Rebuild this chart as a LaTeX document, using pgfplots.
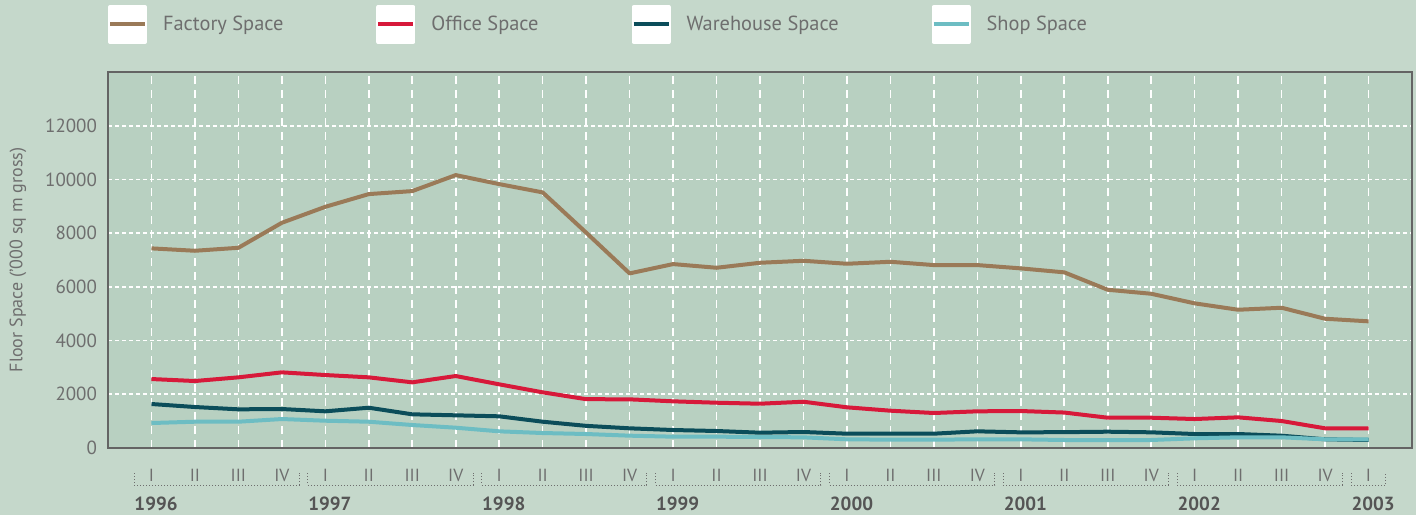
\documentclass[border=0pt]{standalone}
\usepackage{fontspec}
\setmainfont{PT Sans}
\usepackage{pgfplots}
\pgfplotsset{compat=1.18}
\definecolor{outerbg}{RGB}{197,216,203}
\definecolor{plotbg}{RGB}{184,208,193}
\definecolor{txtgrey}{RGB}{110,110,110}
\definecolor{yeargrey}{RGB}{85,85,85}
\definecolor{axisgrey}{RGB}{100,100,100}
\definecolor{cfactory}{RGB}{154,122,88}
\definecolor{coffice}{RGB}{215,25,58}
\definecolor{cwarehouse}{RGB}{11,77,90}
\definecolor{cshop}{RGB}{109,189,195}
\begin{document}
\begin{tikzpicture}
\fill[outerbg] (0,0) rectangle (708pt,257.5pt);
\begin{axis}[
  at={(54pt,33.5pt)}, anchor=south west,
  width=652pt, height=188pt, scale only axis,
  xmin=-1, xmax=29, ymin=0, ymax=14000,
  axis background/.style={fill=plotbg},
  axis line style={draw=axisgrey, line width=0.8pt},
  xtick={0,...,28},
  xticklabels={I,II,III,IV,I,II,III,IV,I,II,III,IV,I,II,III,IV,I,II,III,IV,I,II,III,IV,I,II,III,IV,I},
  ytick={0,2000,...,12000},
  scaled y ticks=false,
  major tick length=0pt,
  grid=major,
  x grid style={white, line width=0.8pt, dash pattern=on 4pt off 3pt},
  y grid style={white, line width=0.8pt, dash pattern=on 2pt off 1.5pt},
  /pgf/number format/assume math mode=true,
  /pgf/number format/1000 sep={},
  yticklabel style={font=\fontsize{9.5}{11}\selectfont, text=txtgrey, xshift=-2pt},
  xticklabel style={font=\fontsize{8.8}{10}\selectfont, text=txtgrey, yshift=-7pt},
  ylabel={Floor Space ('000 sq m gross)},
  ylabel style={at={([xshift=-45pt]axis description cs:0,0.5)}, anchor=center, font=\fontsize{9}{11}\selectfont, text=txtgrey},
  clip=false,
  legend columns=4,
  legend cell align=left,
  legend style={at={(0,1)}, anchor=south west, yshift=14pt, draw=none, fill=none,
    inner sep=0pt, outer sep=0pt, font=\fontsize{10.2}{12}\selectfont, text=txtgrey,
    /tikz/every odd column/.append style={column sep=6pt},
    /tikz/every even column/.append style={column sep=44.5pt}},
  legend image code/.code={\fill[white] (0pt,-8.75pt) rectangle (17.5pt,8.75pt);
    \draw[#1, line width=2pt] (0pt,0pt) -- (17.5pt,0pt);},
  every axis plot/.append style={line width=2pt, line join=round},
]
\addplot[cfactory] table {
0 7433
1 7344
2 7455
3 8386
4 8981
5 9454
6 9566
7 10161
8 9826
9 9517
10 8020
11 6502
12 6848
13 6711
14 6897
15 6971
16 6860
17 6934
18 6811
19 6811
20 6688
21 6540
22 5892
23 5743
24 5386
25 5148
26 5222
27 4813
28 4716
};
\addlegendentry{Factory Space}
\addplot[coffice] table {
0 2568
1 2494
2 2631
3 2817
4 2717
5 2631
6 2445
7 2680
8 2371
9 2073
10 1818
11 1812
12 1738
13 1686
14 1649
15 1723
16 1515
17 1389
18 1303
19 1366
20 1377
21 1320
22 1128
23 1128
24 1079
25 1142
26 1005
27 733
28 733
};
\addlegendentry{Office Space}
\addplot[cwarehouse] table {
0 1638
1 1526
2 1440
3 1452
4 1366
5 1500
6 1254
7 1217
8 1180
9 979
10 825
11 733
12 670
13 633
14 570
15 596
16 533
17 533
18 533
19 621
20 583
21 590
22 607
23 584
24 521
25 521
26 458
27 324
28 298
};
\addlegendentry{Warehouse Space}
\addplot[cshop] table {
0 930
1 979
2 979
3 1079
4 1016
5 979
6 856
7 756
8 621
9 558
10 521
11 459
12 422
13 422
14 409
15 397
16 323
17 311
18 311
19 323
20 323
21 298
22 290
23 298
24 361
25 398
26 398
27 324
28 324
};
\addlegendentry{Shop Space}
\pgfplotsinvokeforeach{0,...,6}{
  \draw[densely dotted, txtgrey, line width=0.5pt]
    ([yshift=-12.5pt]axis cs:4*#1-0.4,0) -- ([yshift=-18.5pt]axis cs:4*#1-0.4,0)
    -- ([yshift=-18.5pt]axis cs:4*#1+3.4,0) -- ([yshift=-12.5pt]axis cs:4*#1+3.4,0);
  \node[anchor=base west, inner sep=0pt, font=\bfseries\fontsize{9.5}{11}\selectfont, text=yeargrey]
    at ([yshift=-31pt]axis cs:4*#1-0.4,0) {\number\numexpr1996+#1\relax};
}
\draw[densely dotted, txtgrey, line width=0.5pt]
  ([yshift=-12.5pt]axis cs:27.6,0) -- ([yshift=-18.5pt]axis cs:27.6,0)
  -- ([yshift=-18.5pt]axis cs:28.4,0) -- ([yshift=-12.5pt]axis cs:28.4,0);
\node[anchor=base west, inner sep=0pt, font=\bfseries\fontsize{9.5}{11}\selectfont, text=yeargrey]
  at ([yshift=-31pt]axis cs:27.6,0) {2003};
\end{axis}
\pgfresetboundingbox
\useasboundingbox (0,0) rectangle (708pt,257.5pt);
\end{tikzpicture}
\end{document}
